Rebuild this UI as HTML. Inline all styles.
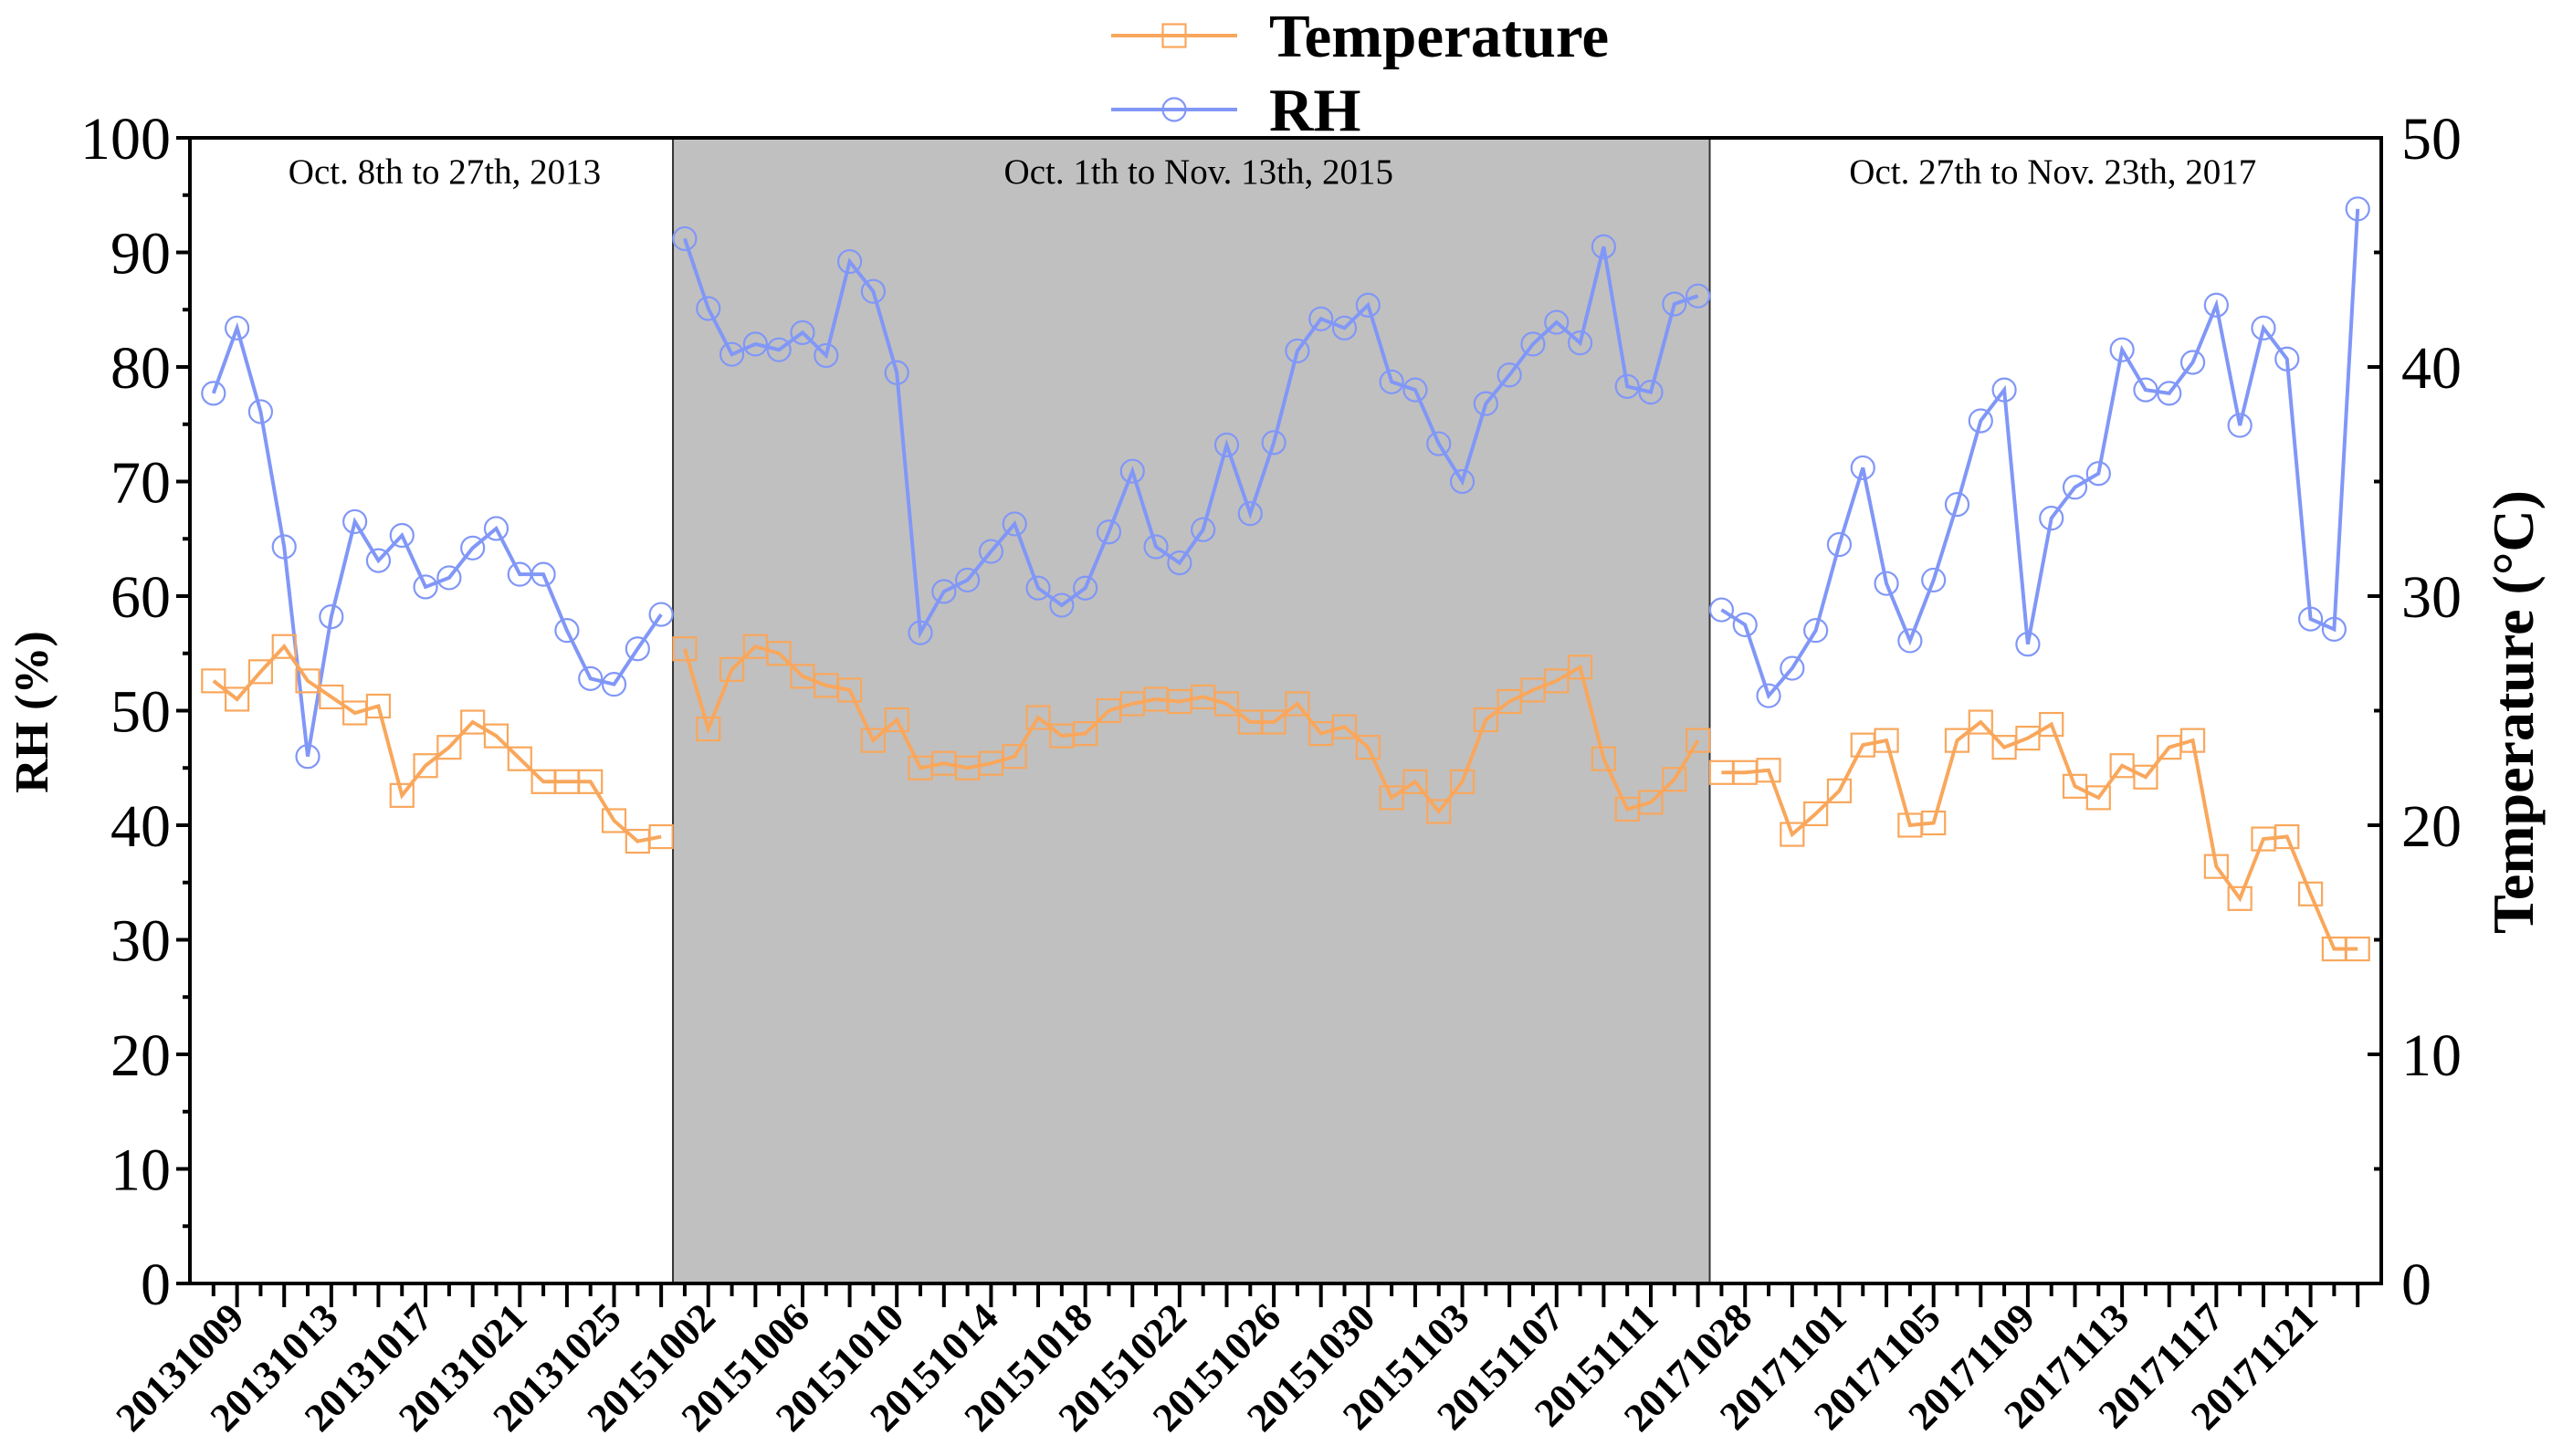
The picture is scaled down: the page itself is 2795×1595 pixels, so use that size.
<!DOCTYPE html>
<html><head><meta charset="utf-8"><style>
html,body{margin:0;padding:0;background:#fff;}
svg{display:block;font-family:"Liberation Serif",serif;}
</style></head><body>
<svg id="chart" width="2795" height="1595" viewBox="0 0 2795 1595" xmlns="http://www.w3.org/2000/svg">
<rect x="0" y="0" width="2795" height="1595" fill="#fff"/>
<g id="shade"></g>
<g id="marks"></g>
<g id="axes"></g>
</svg>
<script>
const categories = [];
(function(){
  for(let d=8; d<=27; d++) categories.push('201310'+String(d).padStart(2,'0'));
  for(let d=1; d<=31; d++) categories.push('201510'+String(d).padStart(2,'0'));
  for(let d=1; d<=13; d++) categories.push('201511'+String(d).padStart(2,'0'));
  for(let d=27; d<=31; d++) categories.push('201710'+String(d).padStart(2,'0'));
  for(let d=1; d<=23; d++) categories.push('201711'+String(d).padStart(2,'0'));
})();
const periodStarts = [0, 20, 64];
const periodEnds = [19, 63, 91];
const periodLabels = ['Oct. 8th to 27th, 2013','Oct. 1th to Nov. 13th, 2015','Oct. 27th to Nov. 23th, 2017'];
const rhValues = [77.7,83.4,76.1,64.3,46.0,58.2,66.5,63.1,65.3,60.8,61.6,64.2,65.9,61.9,61.9,57.0,52.8,52.3,55.4,58.4,
91.2,85.1,81.1,82.0,81.5,83.0,81.0,89.2,86.6,79.5,56.8,60.4,61.4,63.9,66.3,60.7,59.2,60.7,65.6,70.9,64.3,62.9,65.8,73.2,67.2,73.4,81.4,84.2,83.4,85.4,78.7,78.0,73.3,70.0,76.8,79.3,82.0,83.9,82.1,90.5,78.3,77.8,85.5,86.2,
58.8,57.5,51.3,53.7,57.0,64.5,71.2,61.1,56.1,61.4,68.0,75.3,78.0,55.8,66.8,69.5,70.7,81.5,78.0,77.7,80.4,85.4,74.9,83.4,80.7,58.0,57.1,93.8];
const tempValues = [26.3,25.5,26.7,27.8,26.3,25.6,24.9,25.2,21.3,22.6,23.4,24.5,23.9,22.9,21.9,21.9,21.9,20.2,19.3,19.5,
27.7,24.2,26.8,27.8,27.5,26.5,26.1,25.9,23.7,24.6,22.5,22.7,22.5,22.7,23.0,24.7,23.9,24.0,25.0,25.3,25.5,25.4,25.6,25.3,24.5,24.5,25.3,24.0,24.3,23.4,21.2,21.9,20.6,21.9,24.6,25.4,25.9,26.3,26.9,22.9,20.7,21.0,22.0,23.7,
22.3,22.3,22.4,19.6,20.5,21.5,23.5,23.7,20.0,20.1,23.7,24.5,23.4,23.8,24.4,21.7,21.2,22.6,22.1,23.4,23.7,18.2,16.8,19.4,19.5,17.0,14.6,14.6];
const rhTicks = [0,10,20,30,40,50,60,70,80,90,100];
const tempTicks = [0,10,20,30,40,50];

const NS='http://www.w3.org/2000/svg';
const L=208, R=2608, T=151, B=1406;
const N=categories.length;
const step=(R-L)/(N+1);
const xAt=i=>L+(i+1)*step;
const yRH=v=>B-(v/100)*(B-T);
const yT=v=>B-(v/50)*(B-T);
const BLUE='#8197f7', ORANGE='#f9a75c';
function mk(tag,attrs,parent){const e=document.createElementNS(NS,tag);for(const k in attrs)e.setAttribute(k,attrs[k]);parent.appendChild(e);return e;}
const shade=document.getElementById('shade'), marks=document.getElementById('marks'), axes=document.getElementById('axes');

const sx1=xAt(periodStarts[1]-0.5), sx2=xAt(periodEnds[1]+0.5);
const sh=mk('rect',{x:sx1,y:T,width:sx2-sx1,height:B-T,fill:'#c0c0c0',stroke:'#333','stroke-width':2},shade);



const plx=[xAt(periodStarts[0]-0.5),sx1,sx2,R];
for(let p=0;p<3;p++){
  const t=mk('text',{x:(plx[p]+plx[p+1])/2+8,y:201,'font-size':39,'text-anchor':'middle',fill:'#000'},shade);
  t.textContent=periodLabels[p];
  
  
}

for(let p=0;p<3;p++){
  let pr='',pt='';
  for(let i=periodStarts[p];i<=periodEnds[p];i++){pr+=xAt(i)+','+yRH(rhValues[i])+' ';pt+=xAt(i)+','+yT(tempValues[i])+' ';}
  const lr=mk('polyline',{points:pr,fill:'none',stroke:BLUE,'stroke-width':4},marks);
  
  
  const lt=mk('polyline',{points:pt,fill:'none',stroke:ORANGE,'stroke-width':4},marks);
  
  
}
for(let i=0;i<N;i++){
  const c=mk('circle',{cx:xAt(i),cy:yRH(rhValues[i]),r:12.5,fill:'none',stroke:BLUE,'stroke-width':2.2},marks);
  
  
  const s=mk('rect',{x:xAt(i)-12.5,y:yT(tempValues[i])-12.5,width:25,height:25,fill:'none',stroke:ORANGE,'stroke-width':2.2},marks);
  
  
}

const fr=mk('rect',{x:L,y:T,width:R-L,height:B-T,fill:'none',stroke:'#000','stroke-width':4},axes);



for(let v=0;v<=100;v+=5){
  const major=v%10===0;
  const ln=mk('line',{x1:L-(major?15:8),x2:L,y1:yRH(v),y2:yRH(v),stroke:'#000','stroke-width':4},axes);
  
  
}
rhTicks.forEach(v=>{
  const t=mk('text',{x:187,y:yRH(v)+23,'font-size':66,'text-anchor':'end'},axes);
  t.textContent=v;
  
  
});
for(let v=0;v<=50;v+=5){
  const major=v%10===0;
  const ln=mk('line',{x1:R-(major?15:8),x2:R,y1:yT(v),y2:yT(v),stroke:'#000','stroke-width':4},axes);
  
  
}
tempTicks.forEach(v=>{
  const t=mk('text',{x:2630,y:yT(v)+23,'font-size':66,'text-anchor':'start'},axes);
  t.textContent=v;
  
  
});
for(let i=0;i<N;i++){
  const major=i%2===1;
  const ln=mk('line',{x1:xAt(i),x2:xAt(i),y1:B,y2:B+(major?26:14),stroke:'#000','stroke-width':4},axes);
  
  
  if(i%4===1){
    const x=xAt(i)+10,y=1446;
    const t=mk('text',{x:x,y:y,'font-size':44,'font-weight':'bold','text-anchor':'end',transform:`rotate(-45 ${x} ${y})`},axes);
    t.textContent=categories[i];
    
    
  }
}
const yl=mk('text',{x:52,y:780,'font-size':52,'font-weight':'bold','text-anchor':'middle',transform:'rotate(-90 52 780)'},axes);
yl.textContent='RH (%)';


const yr=mk('text',{x:2774,y:780,'font-size':64,'font-weight':'bold','text-anchor':'middle',transform:'rotate(-90 2774 780)'},axes);
yr.textContent='Temperature (°C)';



const lg=mk('g',{},axes);


const legY=[39,120];
const legNames=['Temperature','RH'];
const legCols=[ORANGE,BLUE];
for(let k=0;k<2;k++){
  const ln=mk('line',{x1:1217,x2:1355,y1:legY[k],y2:legY[k],stroke:legCols[k],'stroke-width':4},lg);
  
  
  let m;
  if(k===0) m=mk('rect',{x:1286-12.5,y:legY[k]-12.5,width:25,height:25,fill:'none',stroke:ORANGE,'stroke-width':2.2},lg);
  else m=mk('circle',{cx:1286,cy:legY[k],r:12.5,fill:'none',stroke:BLUE,'stroke-width':2.2},lg);
  
  
  const t=mk('text',{x:1390,y:legY[k]+23,'font-size':67,'font-weight':'bold'},lg);
  t.textContent=legNames[k];
  
  
}
</script>
</body></html>
